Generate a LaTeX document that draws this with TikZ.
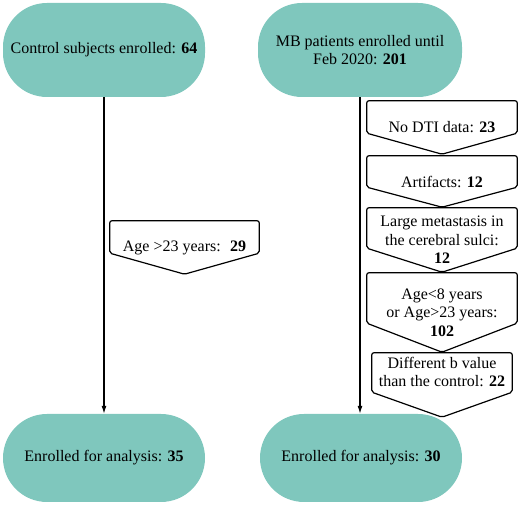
\documentclass[tikz,border=0pt]{standalone}
\usepackage{fontspec}
\setmainfont{Liberation Serif}
\usetikzlibrary{arrows.meta}
\definecolor{enrolgreen}{HTML}{7FC7BD}

% pentagon outline round an exclusion node, #2 = depth of the point
\newcommand{\exclshape}[2]{%
   \draw[exclline] (#1.north west) -- (#1.north east)
      -- ([yshift = #2]#1.south east) -- (#1.south)
      -- ([yshift = #2]#1.south west) -- cycle;}

\begin{document}
\begin{tikzpicture}
      [x = 1pt, y = 1pt,
      font = \fontsize{16}{18.5}\selectfont,
      flow/.style = {-{Latex[length = 8pt, width = 5pt]}, line width = 1.2pt},
      stadium/.style = {
         fill = enrolgreen,
         rounded corners = 44pt,
         minimum width = 202pt,
         minimum height = 94pt,
         inner sep = 0pt,
         align = center
      },
      excl/.style = {
         inner sep = 0pt,
         minimum width = 150pt,
         align = center
      },
      exclline/.style = {
         line width = 1.2pt,
         rounded corners = 2pt
      }]

      \useasboundingbox (0, 0) rectangle (520, 505);

      % two columns
      \node[stadium] (ctrl) at (104, 455) {Control subjects enrolled: \textbf{64}};
      \node[stadium, minimum width = 204pt] (mb) at (360, 455)
         {MB patients enrolled until\\Feb 2020: \textbf{201}};
      \node[stadium, minimum height = 88pt] (ctrlout) at (104, 47)
         {Enrolled for analysis: \textbf{35}};
      \node[stadium, minimum height = 88pt] (mbout) at (361, 47)
         {Enrolled for analysis: \textbf{30}};

      \draw[flow] (ctrl.south) -- (ctrlout.north);
      \draw[flow] (mb.south) -- (mb.south |- mbout.north);

      % exclusions
      \node[excl, minimum width = 149pt, minimum height = 53pt] (agectrl) at (184.5, 257.5)
         {Age >23 years: \ \textbf{29}};
      \exclshape{agectrl}{21pt}

      \node[excl, minimum height = 53pt] (nodti) at (442, 377.5) {No DTI data: \textbf{23}};
      \exclshape{nodti}{21pt}
      \node[excl, minimum height = 51pt] (artif) at (442, 323.5) {Artifacts: \textbf{12}};
      \exclshape{artif}{20pt}
      \node[excl, minimum height = 64pt] (metas) at (442, 265)
         {Large metastasis in\\the cerebral sulci:\\\textbf{12}};
      \exclshape{metas}{24pt}
      \node[excl, minimum height = 79pt] (agemb) at (442, 192.5)
         {Age<8 years\\or Age>23 years:\\\textbf{102}};
      \exclshape{agemb}{29pt}
      \node[excl, minimum width = 140pt, minimum height = 64pt, text depth = 26pt] (bval) at (442, 120)
         {Different b value\\than the control: \textbf{22}};
      \exclshape{bval}{25pt}

   \end{tikzpicture}
\end{document}
